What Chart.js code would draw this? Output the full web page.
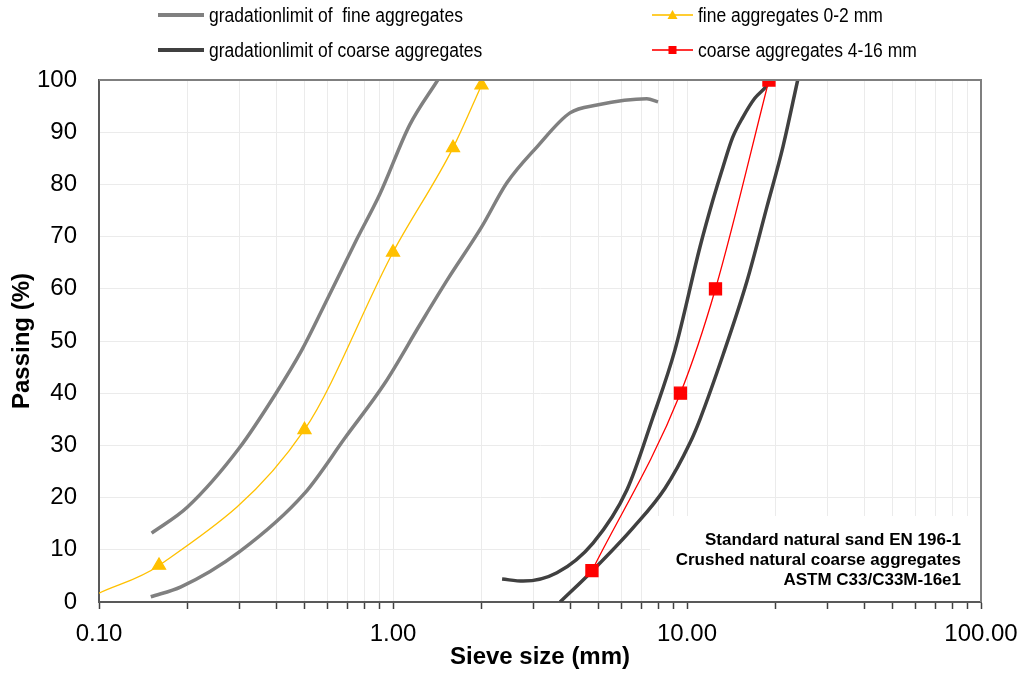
<!DOCTYPE html>
<html>
<head>
<meta charset="utf-8">
<script src="https://cdn.jsdelivr.net/npm/chart.js@4.4.0/dist/chart.umd.min.js"></script>
<style>
html, body { margin: 0; padding: 0; background: #fff; }
#wrap { width: 1024px; height: 674px; position: relative; }
</style>
</head>
<body>
<div id="wrap"><canvas id="grading"></canvas></div>
<script>
// gradation limits (sieve size mm / passing %)
const fineUpperSize = [0.151, 0.2, 0.3, 0.4, 0.49, 0.58, 0.75, 0.9, 1.14, 1.42];
const fineUpperPass = [13.2, 18.2, 29.5, 40, 48.3, 56.5, 69.3, 78, 91.4, 100];

const fineLowerSize = [0.15, 0.19, 0.3, 0.5, 0.69, 0.94, 1.24, 1.53, 2.0, 2.44, 3.09, 4.0, 4.94, 7.3, 7.97];
const fineLowerPass = [1, 2.9, 9.6, 20.8, 31.6, 42, 53.3, 61.7, 71.8, 80.3, 87.2, 93.7, 95.2, 96.4, 95.8];

const coarseUpperSize = [2.35, 2.77, 3.61, 4.79, 6.25, 7.66, 9.1, 11.07, 12.25, 13.25, 14.3, 15.5, 17, 18.7, 19.1];
const coarseUpperPass = [4.4, 4.0, 5.6, 11.3, 21.5, 35.4, 48.3, 68, 77, 83.3, 89, 92.9, 96.5, 99, 100];

const coarseLowerSize = [3.7, 4.79, 6.55, 8.42, 10.24, 11.07, 13.29, 16.0, 18.7, 21.2, 23.8];
const coarseLowerPass = [0, 6.1, 14.2, 21.8, 30.5, 35, 47.5, 61.5, 75.7, 87.2, 100];

// measured aggregates
const fineAggSize = [0.1, 0.16, 0.5, 1.0, 1.6, 2.0];
const fineAggPass = [1.7, 7, 33, 67, 87, 99];

const coarseAggSize = [4.75, 9.5, 12.5, 19];
const coarseAggPass = [6, 40, 60, 100];

// axis ticks
const sieveTicks = [0.1, 0.2, 0.3, 0.4, 0.5, 0.6, 0.7, 0.8, 0.9,
                    1, 2, 3, 4, 5, 6, 7, 8, 9,
                    10, 20, 30, 40, 50, 60, 70, 80, 90, 100];
const sieveLabelValues = [0.1, 1, 10, 100];
const sieveLabels = ['0.10', '1.00', '10.00', '100.00'];

const noteLines = ['Standard natural sand EN 196-1', 'Crushed natural coarse aggregates', 'ASTM C33/C33M-16e1'];

const FONT = "'Liberation Sans', Arial, sans-serif";

function pts(xs, ys) {
    return xs.map((x, i) => ({ x, y: ys[i] }));
}

const GRAY = '#808080';
const DARK = '#404040';
const YELLOW = '#FFC000';
const RED = '#FF0000';

// white box behind the note text
const noteBox = {
    id: 'noteBox',
    beforeDatasetsDraw(chart) {
        const { ctx, chartArea } = chart;
        ctx.save();
        ctx.fillStyle = '#fff';
        ctx.fillRect(650, 516, chartArea.right - 651, chartArea.bottom - 517);
        ctx.restore();
    },
    afterDatasetsDraw(chart) {
        const { ctx, chartArea } = chart;
        ctx.save();
        // top and right frame
        ctx.strokeStyle = '#7f7f7f';
        ctx.lineWidth = 2;
        ctx.beginPath();
        ctx.moveTo(chartArea.left, chartArea.top);
        ctx.lineTo(chartArea.right, chartArea.top);
        ctx.lineTo(chartArea.right, chartArea.bottom);
        ctx.stroke();

        ctx.fillStyle = '#000';
        ctx.font = 'bold 17px ' + FONT;
        ctx.textAlign = 'right';
        ctx.textBaseline = 'middle';
        noteLines.forEach((t, i) => ctx.fillText(t, 961, 540 + i * 20));
        ctx.restore();
    }
};

// two-column legend above the plot
const topLegend = {
    id: 'topLegend',
    afterDraw(chart) {
        const ctx = chart.ctx;
        const ds = chart.data.datasets;
        const items = [
            { d: ds[2], x: 158, y: 15 },
            { d: ds[4], x: 158, y: 50 },
            { d: ds[1], x: 652, y: 15, w: 41, marker: 'triangle' },
            { d: ds[0], x: 652, y: 50, w: 41, marker: 'rect' }
        ];
        ctx.save();
        ctx.font = '20px ' + FONT;
        ctx.textBaseline = 'middle';
        ctx.textAlign = 'left';
        items.forEach(it => {
            const w = it.w || 46;
            ctx.strokeStyle = it.d.borderColor;
            ctx.lineWidth = it.marker ? 2 : 4;
            ctx.globalAlpha = it.marker ? 0.8 : 1;
            ctx.beginPath();
            ctx.moveTo(it.x, it.y);
            ctx.lineTo(it.x + w, it.y);
            ctx.stroke();
            ctx.globalAlpha = 1;
            if (it.marker) {
                ctx.fillStyle = it.d.borderColor;
                const cx = it.x + w / 2;
                if (it.marker === 'triangle') {
                    ctx.beginPath();
                    ctx.moveTo(cx, it.y - 5);
                    ctx.lineTo(cx + 5, it.y + 4);
                    ctx.lineTo(cx - 5, it.y + 4);
                    ctx.closePath();
                    ctx.fill();
                } else {
                    ctx.fillRect(cx - 4, it.y - 4, 8, 8);
                }
            }
            ctx.fillStyle = '#000';
            const label = it.d.label;
            const mw = ctx.measureText(label).width * 0.875;
            ctx.fillText(label, it.x + w + 5, it.y + 1, mw);
        });
        ctx.restore();
    }
};

const limitLine = (label, xs, ys, color, order) => ({
    label,
    data: pts(xs, ys),
    borderColor: color,
    borderWidth: 3.5,
    pointRadius: 0,
    cubicInterpolationMode: 'monotone',
    order
});

new Chart(document.getElementById('grading'), {
    type: 'line',
    data: {
        datasets: [
            {
                label: 'coarse aggregates 4-16 mm',
                data: pts(coarseAggSize, coarseAggPass),
                borderColor: RED,
                backgroundColor: RED,
                borderWidth: 1.3,
                pointStyle: 'rect',
                pointRadius: 8.5,
                cubicInterpolationMode: 'monotone',
                order: 0
            },
            {
                label: 'fine aggregates 0-2 mm',
                data: pts(fineAggSize, fineAggPass),
                borderColor: YELLOW,
                backgroundColor: YELLOW,
                borderWidth: 1.3,
                pointStyle: 'triangle',
                pointRadius: [0, 7.5, 7.5, 7.5, 7.5, 7.5],
                cubicInterpolationMode: 'monotone',
                order: 1
            },
            limitLine('gradationlimit of  fine aggregates', fineUpperSize, fineUpperPass, GRAY, 2),
            limitLine('gradationlimit of  fine aggregates', fineLowerSize, fineLowerPass, GRAY, 3),
            limitLine('gradationlimit of coarse aggregates', coarseUpperSize, coarseUpperPass, DARK, 4),
            limitLine('gradationlimit of coarse aggregates', coarseLowerSize, coarseLowerPass, DARK, 5)
        ]
    },
    options: {
        responsive: true,
        maintainAspectRatio: false,
        animation: false,
        layout: { padding: { top: 80, right: 43, left: 0, bottom: 0 } },
        plugins: {
            legend: { display: false },
            tooltip: { enabled: false }
        },
        scales: {
            x: {
                type: 'logarithmic',
                min: 0.1,
                max: 100,
                afterBuildTicks: scale => {
                    scale.ticks = sieveTicks.map(v => ({ value: v }));
                },
                afterFit: scale => {
                    scale.height = 72;
                    scale.paddingLeft = 0;
                    scale.paddingRight = 0;
                },
                ticks: {
                    autoSkip: false,
                    maxRotation: 0,
                    padding: 11,
                    color: '#000',
                    font: { size: 24, family: FONT },
                    callback: v => {
                        const i = sieveLabelValues.findIndex(m => Math.abs(m - v) < 1e-9);
                        return i >= 0 ? sieveLabels[i] : '';
                    }
                },
                grid: {
                    color: '#ebebeb',
                    lineWidth: 1,
                    drawTicks: true,
                    tickLength: 7,
                    tickColor: '#404040',
                    tickWidth: 1.5
                },
                border: { color: '#595959', width: 2 },
                title: {
                    display: true,
                    text: 'Sieve size (mm)',
                    color: '#000',
                    font: { size: 24, weight: 'bold', family: FONT },
                    padding: { top: 0, bottom: 2 }
                }
            },
            y: {
                min: 0,
                max: 100,
                afterFit: scale => { scale.width = 99; },
                ticks: {
                    stepSize: 10,
                    padding: 22,
                    color: '#000',
                    font: { size: 24, family: FONT }
                },
                grid: {
                    color: '#ebebeb',
                    lineWidth: 1,
                    drawTicks: false
                },
                border: { color: '#595959', width: 2 },
                title: {
                    display: true,
                    text: 'Passing (%)',
                    color: '#000',
                    font: { size: 24, weight: 'bold', family: FONT },
                    padding: { top: 8, bottom: 0 }
                }
            }
        }
    },
    plugins: [noteBox, topLegend]
});
</script>
</body>
</html>
